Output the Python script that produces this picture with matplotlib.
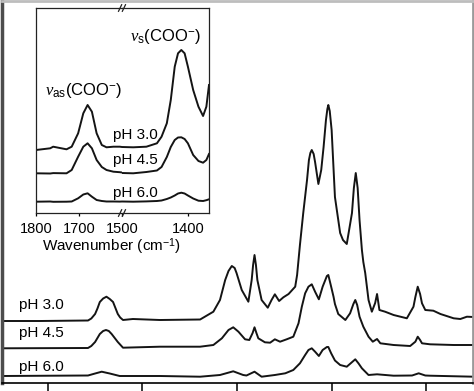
import matplotlib
matplotlib.use("Agg")
import matplotlib.pyplot as plt

plt.rcParams['font.family'] = ['Liberation Sans', 'DejaVu Sans']
plt.rcParams['mathtext.fontset'] = 'custom'
plt.rcParams['mathtext.rm'] = 'Liberation Sans'
plt.rcParams['mathtext.it'] = 'Liberation Serif:italic'

# ---------- main spectra (wavenumber, intensity in a.u.) ----------
main_ticks = [1600, 1400, 1200, 1000, 800]

wn_ph30 = [1697, 1617, 1515, 1508, 1500, 1495, 1490, 1483, 1476, 1469, 1462, 1457, 1452, 1447, 1441,
           1420, 1363, 1278, 1250, 1236, 1225, 1218, 1211, 1205, 1201, 1190, 1176, 1169, 1166, 1163,
           1160, 1157, 1148, 1135, 1127, 1120, 1111, 1102, 1091, 1077, 1073, 1067, 1060, 1052, 1048,
           1045, 1042, 1038, 1035, 1028, 1022, 1017, 1012, 1009, 1007, 1004, 1000, 993, 982, 976,
           968, 957, 953, 949, 945, 941, 936, 933, 929, 922, 915, 908, 904, 899, 887, 869, 841, 827,
           823, 818, 813, 809, 802, 785, 770, 742, 728, 714, 700]
int_ph30 = [62, 62, 62.5, 64.5, 69, 74.5, 81, 84.5, 86.3, 84, 81, 75, 69, 65.5, 63,
            64, 63, 63.5, 71.3, 83, 103, 112, 117, 115, 110, 93, 81.3, 103, 118, 128,
            118, 103, 83, 75.3, 83, 88.7, 82, 85.7, 89, 96.3, 108, 138, 170, 203, 223,
            230, 233, 229, 221, 199, 213, 236, 263, 274, 278, 272, 253, 186, 150, 143,
            139, 170, 195, 210, 195, 163, 133, 121, 110, 83, 71.3, 80, 89, 73, 71.3, 68, 64.7, 76.3,
            86, 96.3, 89, 79.7, 73, 72.3, 69, 64.7, 64, 66.3, 66]

wn_ph45 = [1697, 1515, 1508, 1500, 1490, 1483, 1477, 1471, 1465, 1452, 1441, 1363, 1278, 1250, 1232,
           1218, 1208, 1197, 1183, 1174, 1167, 1163, 1159, 1155, 1141, 1130, 1120, 1109, 1095, 1081,
           1070, 1063, 1056, 1049, 1042, 1035, 1027, 1019, 1010, 1007, 1001, 996, 993, 986, 971,
           961, 954, 950, 946, 941, 933, 922, 913, 904, 897, 869, 834, 823, 818, 813, 809, 792,
           742, 700]
int_ph45 = [34.7, 35, 37, 41, 49, 52, 53, 52, 49, 41, 35.3, 36.3, 36.3, 38, 44.7,
            53, 55.7, 51.3, 43.7, 43, 50, 55.7, 50, 44.7, 40.7, 40.3, 43.7, 41.3, 43.7, 46.3,
            59.7, 76.3, 89.7, 96.3, 98.7, 91.3, 83.7, 96.3, 107, 108, 96.3, 86.3, 79, 69, 63,
            69.7, 79, 83, 78, 66.3, 56.3, 46.3, 41.3, 44, 39.7, 38, 37, 41.3, 46.3, 43, 39.7, 38.7,
            38, 38]

wn_ph60 = [1697, 1515, 1500, 1486, 1469, 1448, 1363, 1278, 1236, 1208, 1187, 1180, 1163, 1148, 1120,
           1098, 1081, 1067, 1056, 1049, 1042, 1035, 1027, 1019, 1010, 1007, 1001, 993, 982, 968,
           959, 950, 943, 936, 922, 904, 869, 830, 816, 802, 792, 700]
int_ph60 = [7, 7.5, 9.5, 11.3, 9.5, 7, 7, 6.3, 8, 11.7, 8, 7.5, 11.3, 6.3, 8,
            9.7, 13, 19.7, 28, 33, 34.7, 31.3, 27, 33, 36, 36, 29.7, 22.5, 18, 16.3,
            20, 23.7, 19.5, 14.7, 8, 8.7, 7.3, 7.5, 9.7, 7.5, 7.3, 6.3]

# ---------- inset spectra (broken axis: 1800-1600 | 1500-1368) ----------
ins_wn_left = [1800, 1767, 1760, 1729, 1717, 1702, 1690, 1680, 1670, 1659, 1647, 1636, 1620, 1605, 1600]
ins_ph30_left = [63, 64.7, 66.3, 63.7, 66.3, 79.7, 99.7, 108, 101.3, 79.7, 68, 65.7, 66.3, 66.3, 66]
ins_ph45_left = [39.7, 39.5, 39.9, 39.7, 43, 56.3, 66.3, 69.7, 64.7, 53, 46, 43, 41.3, 40.8, 40.5]
ins_ph60_left = [11.3, 11.5, 11.2, 11.3, 11.5, 14.7, 18.5, 19.7, 16.3, 13, 12, 11.5, 11.5, 11.4, 11.5]

ins_wn_right = [1500, 1483, 1463, 1447, 1440, 1432, 1426, 1420, 1415, 1410, 1405, 1400, 1392, 1384,
                1377, 1372, 1368]
ins_ph30_right = [66, 65.7, 66.3, 69.7, 76.3, 89.7, 113, 146.3, 159.7, 163, 159.7, 146.3, 123, 106.3,
                  97, 106.3, 128]
ins_ph45_right = [40, 39.7, 41, 42.5, 46, 56, 66, 73, 75.5, 75.7, 74, 69.7, 58, 52,
                  50.3, 53, 59]
ins_ph60_right = [11.5, 11.3, 11.6, 12, 12.5, 14, 15.5, 17.5, 19.5, 20.3, 19.5, 17.5, 14.5, 12.3,
                  12, 12.8, 13.7]

labels = ["pH 3.0", "pH 4.5", "pH 6.0"]
ins_ticks_left = [1800, 1700]
ins_ticks_right = [1500, 1400]

line_kw = dict(color='#141414', lw=1.4, solid_joinstyle='round')

fig = plt.figure(figsize=(4.74, 3.91), dpi=100)

# ---------- main panel ----------
ax = fig.add_axes([1.7 / 474, 8 / 391, 471.1 / 474, 382 / 391])
ax.plot(wn_ph30, int_ph30, **line_kw)
ax.plot(wn_ph45, int_ph45, **line_kw)
ax.plot(wn_ph60, int_ph60, **line_kw)
ax.set_xlim(1697.4, 701.6)
ax.set_ylim(0, 382)
ax.set_xticks(main_ticks)
ax.set_yticks([])
ax.tick_params(axis='x', direction='out', length=5.8, width=1.1, labelbottom=False)
ax.spines['bottom'].set_linewidth(1.2)
ax.spines['left'].set_color('#4d4d4d')
ax.spines['left'].set_linewidth(2.5)
ax.spines['top'].set_color('#bdbdbd')
ax.spines['top'].set_linewidth(2)
ax.spines['right'].set_color('#9a9a9a')
ax.spines['right'].set_linewidth(2)

for lab, ypx in zip(labels, [305, 333, 367]):
    fig.text(19 / 474, 1 - ypx / 391, lab, fontsize=11, ha='left', va='center')

# ---------- inset with broken axis ----------
ax1 = fig.add_axes([36 / 474, 178 / 391, 86 / 474, 205 / 391])
ax2 = fig.add_axes([122 / 474, 178 / 391, 87 / 474, 205 / 391])
for a, wn, curves, lim, ticks in [
        (ax1, ins_wn_left, [ins_ph30_left, ins_ph45_left, ins_ph60_left], (1800, 1600), ins_ticks_left),
        (ax2, ins_wn_right, [ins_ph30_right, ins_ph45_right, ins_ph60_right], (1500, 1368), ins_ticks_right)]:
    for c in curves:
        a.plot(wn, c, **line_kw)
    a.set_xlim(*lim)
    a.set_ylim(0, 205)
    a.set_yticks([])
    a.set_xticks(ticks)
    a.tick_params(axis='x', direction='out', length=2.5, width=0.9, labelsize=10.5, pad=4)
    for s in a.spines.values():
        s.set_linewidth(0.9)
        s.set_color('#222222')
ax1.spines['right'].set_visible(False)
ax2.spines['left'].set_visible(False)

# break marks
dx, dy = 0.018, 0.016
for off in (-0.022, 0.022):
    for yy in (0, 1):
        ax2.plot([off - dx, off + dx], [yy - dy, yy + dy], transform=ax2.transAxes,
                 color='#222222', lw=0.9, clip_on=False)

for lab, ypx in zip(labels, [135, 160, 193]):
    fig.text(113 / 474, 1 - ypx / 391, lab, fontsize=11, ha='left', va='center')

fig.text(45 / 474, 1 - 90 / 391, r'$\nu_{\mathrm{as}}$(COO$^{-}$)', fontsize=12, ha='left', va='center')
fig.text(130 / 474, 1 - 37 / 391, r'$\nu_{\mathrm{s}}$(COO$^{-}$)', fontsize=12, ha='left', va='center')
fig.text(111.5 / 474, 1 - 247 / 391, r'Wavenumber (cm$^{-1}$)', fontsize=11, ha='center', va='center')

fig.savefig("out.png", dpi=100, facecolor='white')
